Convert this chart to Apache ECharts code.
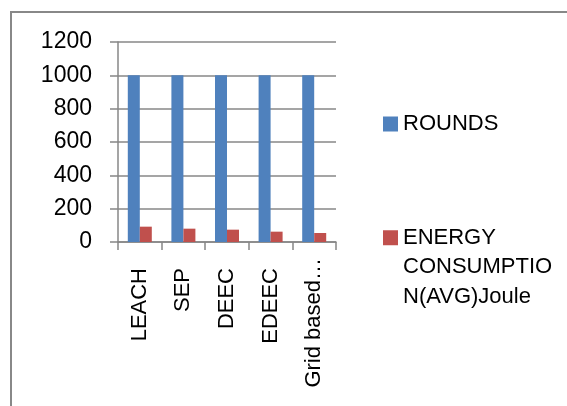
<!DOCTYPE html>
<html>
<head>
<meta charset="utf-8">
<script src="https://cdn.jsdelivr.net/npm/echarts@6/dist/echarts.min.js"></script>
<style>
  html, body { margin: 0; padding: 0; background: #fff; }
  #chart { width: 567px; height: 406px; }
</style>
</head>
<body>
<div id="chart"></div>
<script>
// Protocols compared in the simulation
const categories = ['LEACH', 'SEP', 'DEEC', 'EDEEC', 'Grid based…'];
// Network lifetime in rounds
const rounds = [1000, 1000, 1000, 1000, 1000];
// Average energy consumption in joules
const energy = [92, 80, 74, 62, 54];
// Value axis ticks
const yMin = 0, yMax = 1200, yStep = 200;

const roundsName = 'ROUNDS';
const energyName = 'ENERGY CONSUMPTION(AVG)Joule';
const energyLines = ['ENERGY', 'CONSUMPTIO', 'N(AVG)Joule'];

const FONT = '"Liberation Sans", Arial, sans-serif';
const GRID_COLOR = '#878787';
const LINE_H = 29.5;

const chart = echarts.init(document.getElementById('chart'), null, { renderer: 'canvas' });

chart.setOption({
  animation: false,
  backgroundColor: '#ffffff',
  graphic: [{
    type: 'rect',
    silent: true,
    shape: { x: 11, y: 12, width: 620, height: 460 },
    style: { fill: 'none', stroke: '#888888', lineWidth: 2 }
  }],
  grid: { left: 118, right: 231, top: 42, bottom: 164, containLabel: false },
  legend: [{
    data: [roundsName],
    orient: 'vertical',
    left: 378,
    top: 108,
    icon: 'rect',
    itemWidth: 15,
    itemHeight: 15,
    selectedMode: false,
    textStyle: { fontFamily: FONT, fontSize: 22, color: '#000' }
  }, {
    data: [energyName],
    orient: 'vertical',
    left: 378,
    top: 159,
    icon: 'rect',
    itemWidth: 15,
    itemHeight: 15,
    selectedMode: false,
    // two empty leading lines keep the marker level with the first wrapped line
    formatter: () => '\n\n' + energyLines.join('\n'),
    textStyle: {
      fontFamily: FONT, fontSize: 22, color: '#000',
      lineHeight: LINE_H
    }
  }],
  xAxis: {
    type: 'category',
    data: categories,
    axisLine: { show: true, lineStyle: { color: GRID_COLOR, width: 1.5 } },
    axisTick: { show: true, length: 8, alignWithLabel: false, lineStyle: { color: GRID_COLOR, width: 1.5 } },
    axisLabel: {
      rotate: 90,
      margin: 16,
      interval: 0,
      fontFamily: FONT,
      fontSize: 22,
      color: '#000',
      formatter: (v, i) => (i < categories.length - 1 ? '{p|' + v + '}' : '{q|' + v + '}'),
      rich: {
        p: { fontFamily: FONT, fontSize: 22, color: '#000', padding: [0, 10, 0, 0] },
        q: { fontFamily: FONT, fontSize: 22, color: '#000' }
      }
    }
  },
  yAxis: {
    type: 'value',
    min: yMin,
    max: yMax,
    interval: yStep,
    axisLine: { show: true, lineStyle: { color: GRID_COLOR, width: 1.5 } },
    axisTick: { show: true, length: 8, lineStyle: { color: GRID_COLOR, width: 1.5 } },
    axisLabel: {
      margin: 26, fontFamily: FONT, fontSize: 23, color: '#000',
      formatter: (v) => String(v)
    },
    splitLine: { show: true, lineStyle: { color: GRID_COLOR, width: 1.5 } }
  },
  series: [{
    name: roundsName,
    type: 'bar',
    data: rounds,
    barWidth: 12,
    barGap: '0%',
    itemStyle: { color: '#4F81BD' }
  }, {
    name: energyName,
    type: 'bar',
    data: energy,
    barWidth: 12,
    barGap: '0%',
    itemStyle: { color: '#C0504D' }
  }]
});
</script>
</body>
</html>
